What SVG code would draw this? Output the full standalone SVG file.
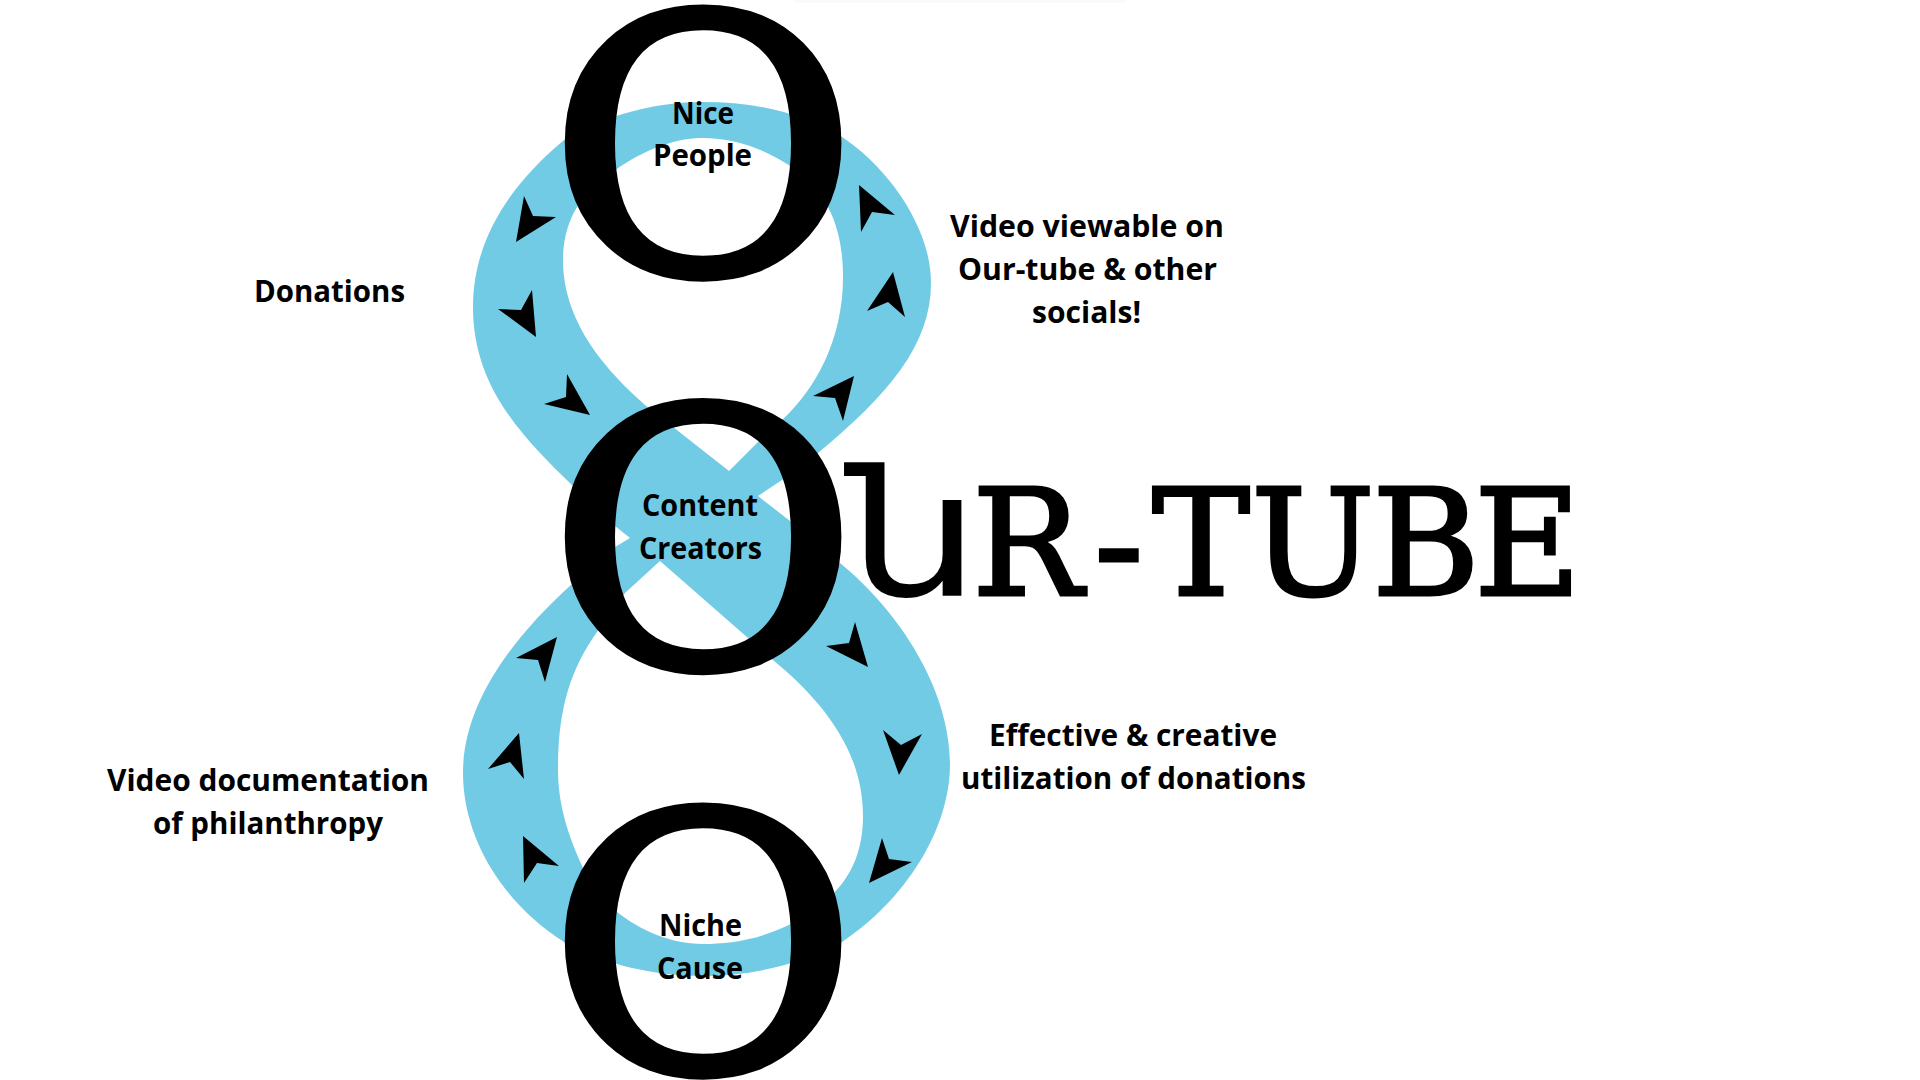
<svg xmlns="http://www.w3.org/2000/svg" width="1920" height="1080" viewBox="0 0 1920 1080">
<style>
.lbl{font-family:"Open Sans","Noto Sans",sans-serif;font-weight:700;font-size:30px;fill:#000;text-anchor:start}
.big{font-family:"DejaVu Serif",serif;fill:#000;stroke:#000}
.o{font-size:368px;text-anchor:middle;stroke-width:7.5}
.arw{fill:#000}
</style>
<rect width="1920" height="1080" fill="#fff"/>
<rect x="795" y="0" width="330" height="3" fill="#fafafa"/>
<g id="connectors">
<path id="loop" fill="#72CBE5" fill-rule="evenodd" d="M703 102C755 102 800 112 842 137C885 165 931 225 931 283C931 345 888 395 818 453L782 480L758 496L790 521L840 563C900 612 950 690 950 764C950 830 905 900 842 942C800 965 750 976 703 976C655 976 605 965 564 942C505 905 463 840 463 773C463 705 510 640 572 584L615 547L630 538L615 526L572 485C520 435 473 385 473 307C473 240 510 185 564 140C605 115 655 102 703 102Z
M673 427C610 380 563 325 563 260C563 240 568 222 577 207C595 180 650 138 703 138C755 138 810 170 828 207C840 230 843 255 843 277C843 340 815 390 782 420L757 443L729 471Z
M660 561L773 660C815 695 863 745 863 816C863 850 852 875 833 894C790 935 740 944 703 944C670 944 640 930 617 912C600 898 590 885 583 868C568 835 558 805 558 769C558 710 570 670 597 632L625 593Z"/>
</g>
<g id="arrows">
<polygon class="arw" points="524,196 533,216 556,217 516,242"/>
<polygon class="arw" points="532,290 521,310 498,309 536,337"/>
<polygon class="arw" points="567,374 566,397 544,404 590,415"/>
<polygon class="arw" points="859,185 895,215 872,212 861,232"/>
<polygon class="arw" points="893,272 905,317 888,302 867,311"/>
<polygon class="arw" points="854,376 813,396 835,398 843,421"/>
<polygon class="arw" points="855,622 849,643 826,646 868,667"/>
<polygon class="arw" points="883,730 901,745 922,734 899,775"/>
<polygon class="arw" points="882,838 889,859 912,862 869,883"/>
<polygon class="arw" points="557,637 516,658 538,660 545,682"/>
<polygon class="arw" points="519,733 488,769 510,762 524,779"/>
<polygon class="arw" points="523,836 559,866 537,863 524,883"/>
</g>
<g id="node-nice-people">
<text class="big o" transform="translate(703,273) scale(1.032,.97)">O</text>
<text class="lbl" x="672" y="124" textLength="62" lengthAdjust="spacingAndGlyphs">Nice</text>
<text class="lbl" x="653" y="166" textLength="99" lengthAdjust="spacingAndGlyphs">People</text>
</g>
<g id="node-content-creators">
<text class="big o" transform="translate(703,666.500) scale(1.032,.97)">O</text>
<text class="lbl" x="642" y="516" textLength="116" lengthAdjust="spacingAndGlyphs">Content</text>
<text class="lbl" x="639" y="559" textLength="123" lengthAdjust="spacingAndGlyphs">Creators</text>
</g>
<g id="node-niche-cause">
<text class="big o" transform="translate(703,1071) scale(1.032,.97)">O</text>
<text class="lbl" x="659" y="936" textLength="83" lengthAdjust="spacingAndGlyphs">Niche</text>
<text class="lbl" x="657" y="979" textLength="86" lengthAdjust="spacingAndGlyphs">Cause</text>
</g>
<g id="title">
<text transform="translate(848,596) scale(1.74,1.45)" font-family="DejaVu Sans" font-size="120" fill="#000">ն</text>
<text class="big" style="stroke-width:3" y="595" font-size="147" x="972 1094 1152 1251 1372 1474">R-TUBE</text>
</g>
<g id="labels">
<text class="lbl" x="254" y="302" textLength="151" lengthAdjust="spacingAndGlyphs">Donations</text>
<text class="lbl" x="950" y="237" textLength="274" lengthAdjust="spacingAndGlyphs">Video viewable on</text>
<text class="lbl" x="958" y="280" textLength="259" lengthAdjust="spacingAndGlyphs">Our-tube &amp; other</text>
<text class="lbl" x="1032" y="323" textLength="109" lengthAdjust="spacingAndGlyphs">socials!</text>
<text class="lbl" x="989" y="746" textLength="288" lengthAdjust="spacingAndGlyphs">Effective &amp; creative</text>
<text class="lbl" x="961" y="789" textLength="345" lengthAdjust="spacingAndGlyphs">utilization of donations</text>
<text class="lbl" x="107" y="791" textLength="322" lengthAdjust="spacingAndGlyphs">Video documentation</text>
<text class="lbl" x="153" y="834" textLength="230" lengthAdjust="spacingAndGlyphs">of philanthropy</text>
</g>
</svg>
